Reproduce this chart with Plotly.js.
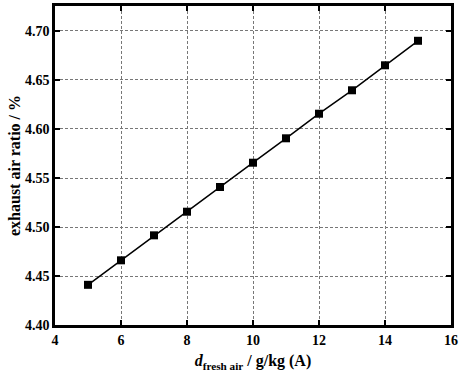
<!DOCTYPE html>
<html><head><meta charset="utf-8">
<script src="https://cdn.plot.ly/plotly-3.0.1.min.js"></script>
<style>html,body{margin:0;padding:0;background:#fff}</style>
</head><body><div id="chart" style="width:464px;height:380px"></div>
<script>
const freshAirD = [5, 6, 7, 8, 9, 10, 11, 12, 13, 14, 15];
const exhaustRatio = [4.441, 4.466, 4.4915, 4.5156, 4.5408, 4.5656, 4.5905, 4.6156, 4.6395, 4.665, 4.690];
const xTicks = [4, 6, 8, 10, 12, 14, 16];
const yTicks = [4.40, 4.45, 4.50, 4.55, 4.60, 4.65, 4.70];

const font = {family: '"Liberation Serif", "Times New Roman", serif', color: '#000'};
const axisCommon = {
  showline: true, linecolor: '#000', linewidth: 2.5, mirror: 'ticks',
  ticks: 'inside', ticklen: 5, tickwidth: 2, tickcolor: '#000',
  showgrid: true, gridcolor: '#777', griddash: '3px,2px', gridwidth: 1,
  zeroline: false,
  tickfont: Object.assign({size: 14, weight: 'bold'}, font)
};
Plotly.newPlot('chart', [{
  x: freshAirD, y: exhaustRatio, type: 'scatter', mode: 'lines+markers',
  line: {color: '#000', width: 1.5},
  marker: {symbol: 'square', size: 8, color: '#000'}
}], {
  width: 464, height: 380,
  margin: {l: 55, r: 13, t: 6, b: 55},
  paper_bgcolor: '#fff', plot_bgcolor: '#fff',
  showlegend: false,
  xaxis: Object.assign({}, axisCommon, {
    range: [4, 16], tickvals: xTicks, ticktext: xTicks.map(String),
    title: {text: '<b><i>d</i><sub>fresh air</sub> / g/kg (A)</b>', font: Object.assign({size: 16}, font), standoff: 9}
  }),
  yaxis: Object.assign({}, axisCommon, {
    range: [4.40, 4.7255], tickvals: yTicks, ticktext: yTicks.map(v => v.toFixed(2)),
    title: {text: '<b>exhaust air ratio / %</b>', font: Object.assign({size: 16}, font), standoff: 1}
  })
}, {displayModeBar: false});
</script></body></html>
